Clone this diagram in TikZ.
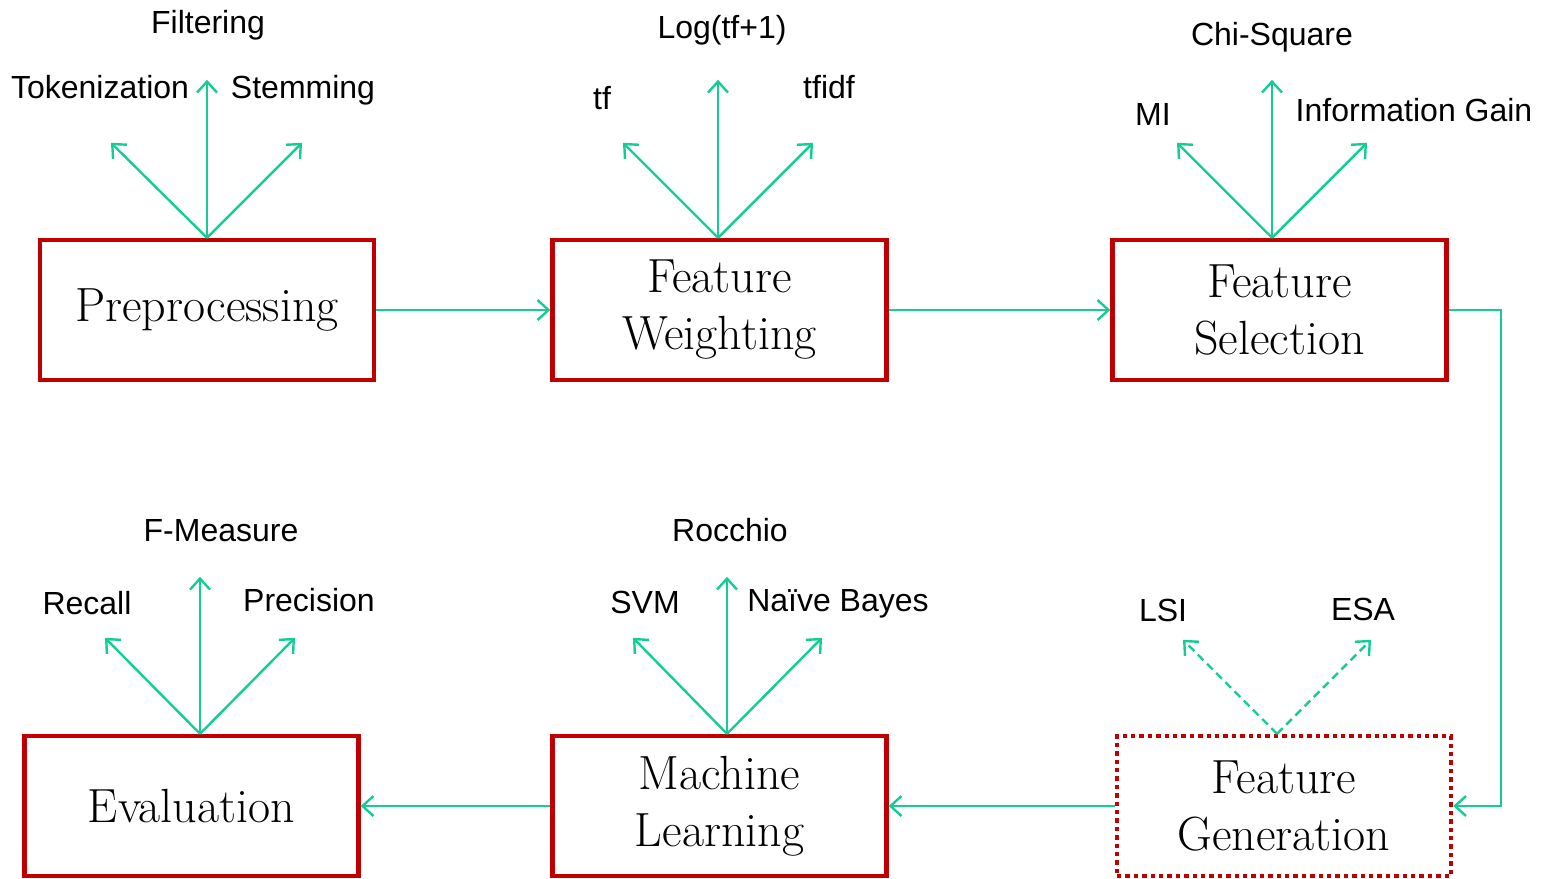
\documentclass[tikz,border=0pt]{standalone}
\usepackage{fontspec}
\setsansfont{Liberation Sans}
\usetikzlibrary{arrows.meta}
\definecolor{boxred}{RGB}{192,0,0}
\definecolor{flowgreen}{RGB}{20,205,150}
\tikzset{
    stage/.style={draw=boxred, line width=2.2pt, minimum width=167pt, minimum height=70pt,
        align=center, font=\fontsize{24}{28.5}\selectfont},
    term/.style={anchor=base, font=\sffamily\fontsize{16}{18}\selectfont},
    flow/.style={draw=flowgreen, line width=1.2pt, -{Straight Barb[length=5.5pt,width=10pt]}},
}
\begin{document}
\begin{tikzpicture}[x=0.5pt,y=-0.5pt]
            \useasboundingbox (0,0) rectangle (1552,878);
            % stages
            \node[stage] (pre) at (207,310) {Preprocessing};
            \node[stage] (fw) at (719.5,310) {Feature\\Weighting};
            \node[stage] (fs) at (1279.5,310) {Feature\\Selection};
            \node[stage] (eval) at (191.5,806) {Evaluation};
            \node[stage] (ml) at (719.5,806) {Machine\\Learning};
            \node[stage,dash pattern=on 2.2pt off 2pt] (fg) at (1284,806) {Feature\\Generation};
            % main flow
            \draw[flow] (pre) -- (fw);
            \draw[flow] (fw) -- (fs);
            \draw[flow] (fs.east) -- ++(52,0) |- (fg.east);
            \draw[flow] (fg) -- (ml);
            \draw[flow] (ml) -- (eval);
            % fans
            \foreach \dx/\dy in {-96/-95, 0/-158, 95/-95}
                \draw[flow] (pre.north) -- ++(\dx,\dy);
            \foreach \dx/\dy in {-95/-95, 0/-158, 95/-95}
                \draw[flow] ([xshift=-0.75pt]fw.north) -- ++(\dx,\dy);
            \foreach \dx/\dy in {-95/-95, 0/-158, 95/-95}
                \draw[flow] ([xshift=-3.75pt]fs.north) -- ++(\dx,\dy);
            \foreach \dx/\dy in {-95/-96, 0/-157, 95/-96}
                \draw[flow] ([xshift=4.25pt]eval.north) -- ++(\dx,\dy);
            \foreach \dx/\dy in {-94/-96, 0/-157, 95/-96}
                \draw[flow] ([xshift=3.75pt]ml.north) -- ++(\dx,\dy);
            \foreach \dx/\dy in {-94/-94, 94/-94}
                \draw[flow,dash pattern=on 4pt off 2.5pt] ([xshift=-3.5pt]fg.north) -- ++(\dx,\dy);
            % terms
            \node[term] (filt) at (208,33) {Filtering};
            \node[term] (tok) at (100,98) {Tokenization};
            \node[term] (stem) at (303,98) {Stemming};
            \node[term] (log) at (722,39) {Log(tf+1)};
            \node[term] (tf) at (602,109) {tf};
            \node[term] (tfidf) at (829,98) {tfidf};
            \node[term] (chi) at (1272,46) {Chi-Square};
            \node[term] (mi) at (1153,125) {MI};
            \node[term] (ig) at (1414,121) {Information Gain};
            \node[term] (fmeas) at (221,541) {F-Measure};
            \node[term] (rec) at (87,614) {Recall};
            \node[term] (prec) at (309,611) {Precision};
            \node[term] (roc) at (730,541) {Rocchio};
            \node[term] (svm) at (645,613) {SVM};
            \node[term] (nb) at (838,611) {Naïve Bayes};
            \node[term] (lsi) at (1163,621) {LSI};
            \node[term] (esa) at (1363,620) {ESA};
        \end{tikzpicture}
\end{document}
